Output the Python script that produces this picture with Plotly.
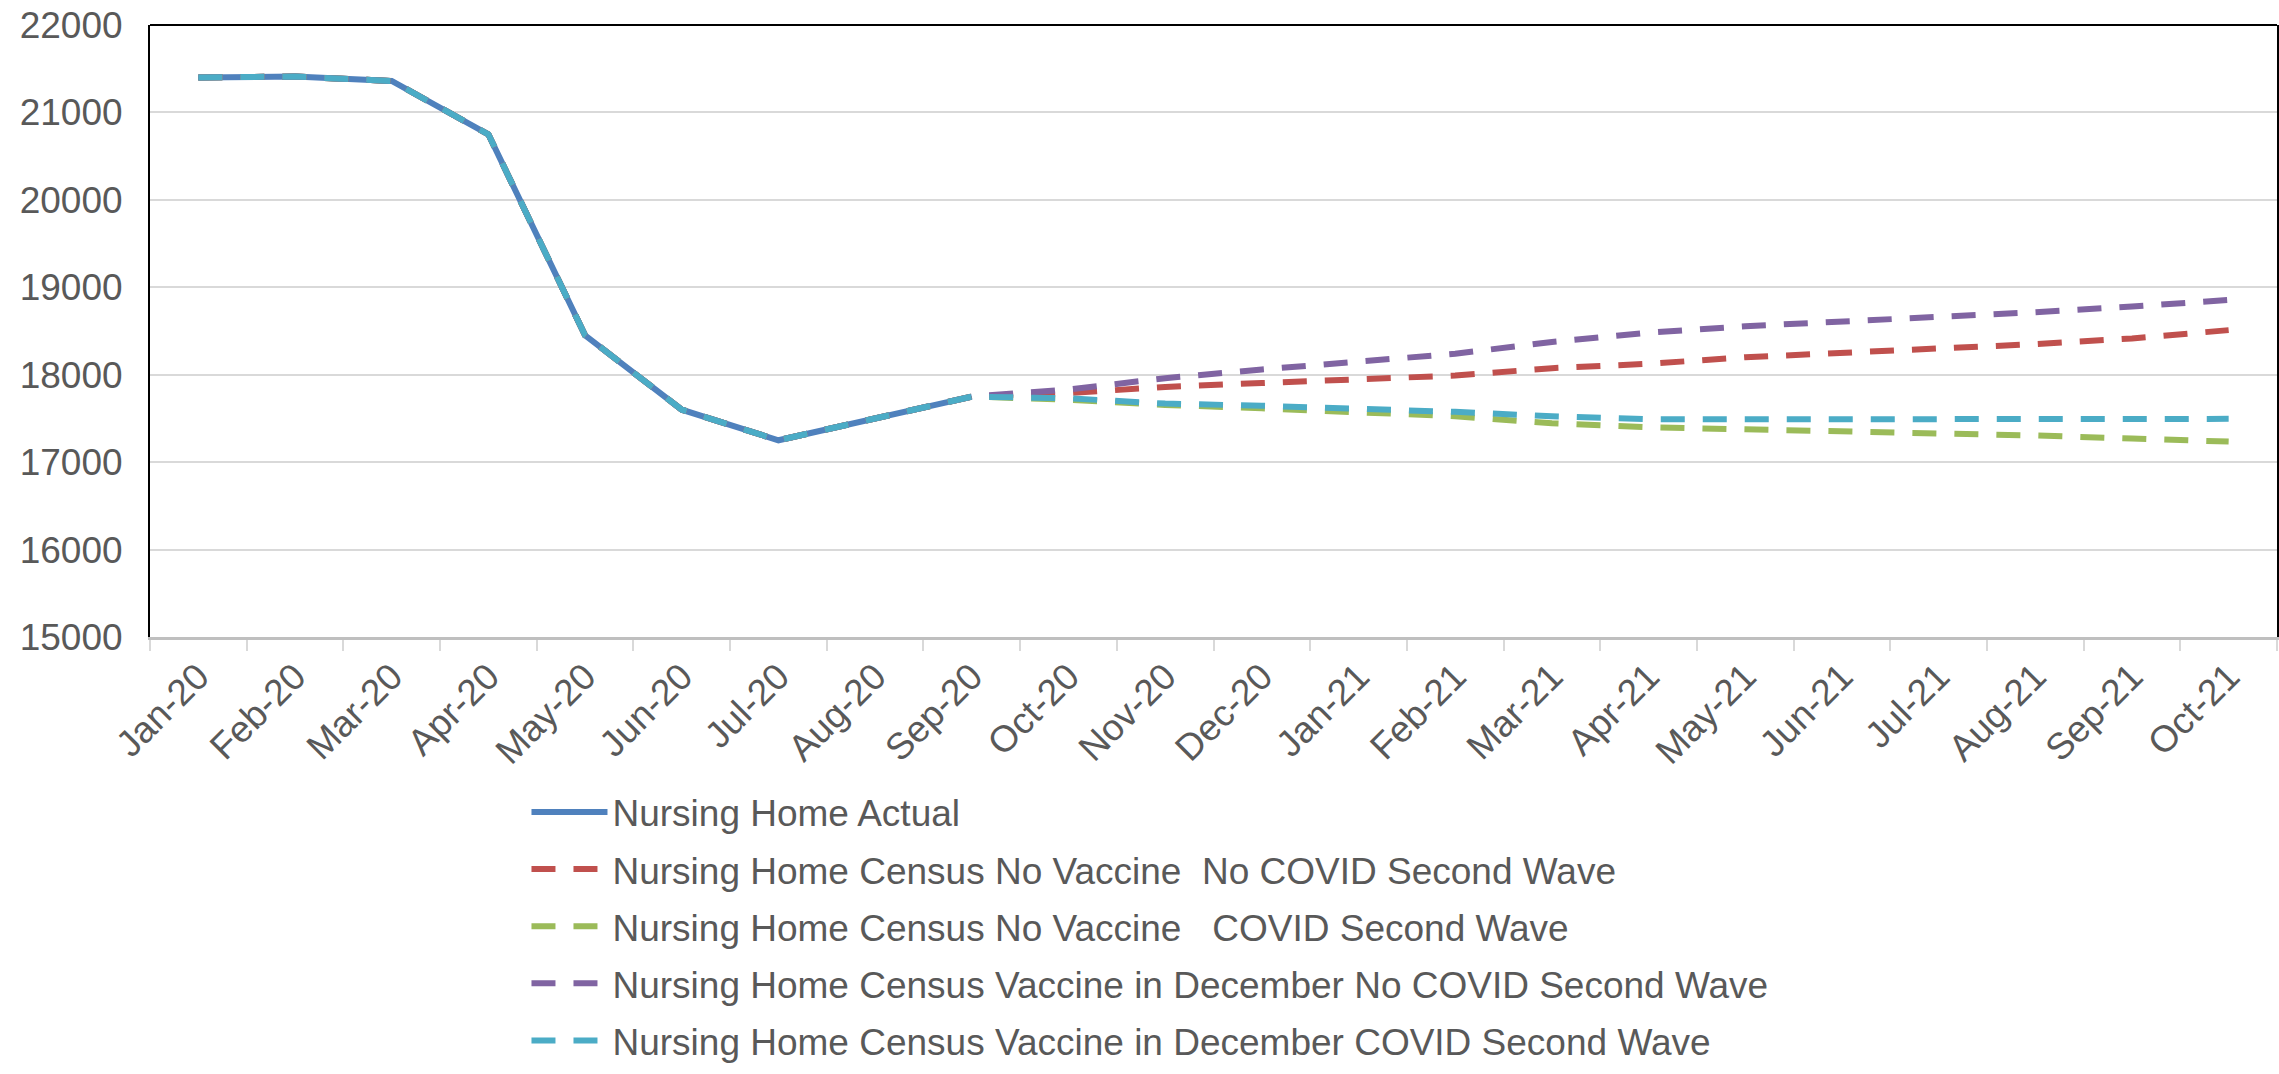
import plotly.graph_objects as go

# ---------------------------------------------------------
# Data
# ---------------------------------------------------------
months = [
    "Jan-20", "Feb-20", "Mar-20", "Apr-20", "May-20", "Jun-20", "Jul-20",
    "Aug-20", "Sep-20", "Oct-20", "Nov-20", "Dec-20", "Jan-21", "Feb-21",
    "Mar-21", "Apr-21", "May-21", "Jun-21", "Jul-21", "Aug-21", "Sep-21",
    "Oct-21",
]

actual = [21400, 21410, 21360, 20750, 18450, 17600, 17250, 17500, 17750]

no_vac_no_wave = actual + [17790, 17860, 17905, 17950, 17990, 18075,
                           18125, 18200, 18245, 18295, 18350, 18415, 18510]
no_vac_wave = actual + [17715, 17655, 17615, 17570, 17525, 17445,
                        17400, 17375, 17355, 17335, 17305, 17270, 17235]
vac_dec_no_wave = actual + [17830, 17960, 18060, 18145, 18240, 18375,
                            18480, 18555, 18605, 18660, 18715, 18780, 18855]
vac_dec_wave = actual + [17730, 17670, 17645, 17615, 17575, 17525,
                         17490, 17490, 17490, 17490, 17495, 17495, 17495]

y_ticks = [15000, 16000, 17000, 18000, 19000, 20000, 21000, 22000]

# ---------------------------------------------------------
# Styling
# ---------------------------------------------------------
FONT = "Liberation Sans, Arial, sans-serif"
TEXT = "#595959"
GRID = "#D9D9D9"

series = [
    ("Nursing Home Actual", actual, "#4F81BD", "solid"),
    ("Nursing Home Census No Vaccine  No COVID Second Wave", no_vac_no_wave, "#C0504D", "24px,18px"),
    ("Nursing Home Census No Vaccine   COVID Second Wave", no_vac_wave, "#9BBB59", "24px,18px"),
    ("Nursing Home Census Vaccine in December No COVID Second Wave", vac_dec_no_wave, "#8064A2", "24px,18px"),
    ("Nursing Home Census Vaccine in December COVID Second Wave", vac_dec_wave, "#4BACC6", "24px,18px"),
]

fig = go.Figure()

for i, (name, vals, color, dash) in enumerate(series):
    fig.add_trace(
        go.Scatter(
            x=months[:len(vals)],
            y=vals,
            name=name,
            mode="lines",
            legendgroup=f"g{i}",
            line=dict(color=color, width=6, dash=dash),
        )
    )

fig.update_layout(
    width=2279,
    height=1074,
    plot_bgcolor="white",
    paper_bgcolor="white",
    font=dict(family=FONT, size=37, color=TEXT),
    margin=dict(l=150, r=2, t=25, b=422),
    showlegend=True,
    legend=dict(
        x=0.177,
        xanchor="left",
        y=-0.236,
        yanchor="top",
        orientation="v",
        itemwidth=76,
        tracegroupgap=6,
        font=dict(family=FONT, size=37, color=TEXT),
        bgcolor="rgba(0,0,0,0)",
    ),
)

fig.update_xaxes(
    type="category",
    categoryorder="array",
    categoryarray=months,
    range=[-0.5, len(months) - 0.5],
    automargin=False,
    tickangle=-45,
    tickson="boundaries",
    ticks="outside",
    ticklen=11,
    tickwidth=2,
    tickcolor=GRID,
    showgrid=False,
    showline=True,
    linecolor="#BFBFBF",
    linewidth=3,
    tickfont=dict(family=FONT, size=37, color=TEXT),
)

fig.update_yaxes(
    range=[15000, 22000],
    tickvals=y_ticks,
    tickformat="d",
    automargin=False,
    showgrid=True,
    gridcolor=GRID,
    gridwidth=2,
    showline=True,
    linecolor="black",
    linewidth=2,
    mirror=True,
    zeroline=False,
    ticks="",
    ticklabelstandoff=18,
    tickfont=dict(family=FONT, size=37, color=TEXT),
)

# black frame along the top of the plot area
fig.add_shape(
    type="line", xref="paper", yref="paper",
    x0=0, x1=1, y0=1, y1=1,
    line=dict(color="black", width=2),
)

# drop the browser's default body margin and keep the page exactly one figure tall
page_fix = (
    "document.body.style.margin = '0';"
    "document.body.style.overflow = 'hidden';"
    "document.documentElement.style.overflow = 'hidden';"
    "document.body.style.height = '1074px';"
)
fig.write_html("out.html", post_script=page_fix, config={"displayModeBar": False})
